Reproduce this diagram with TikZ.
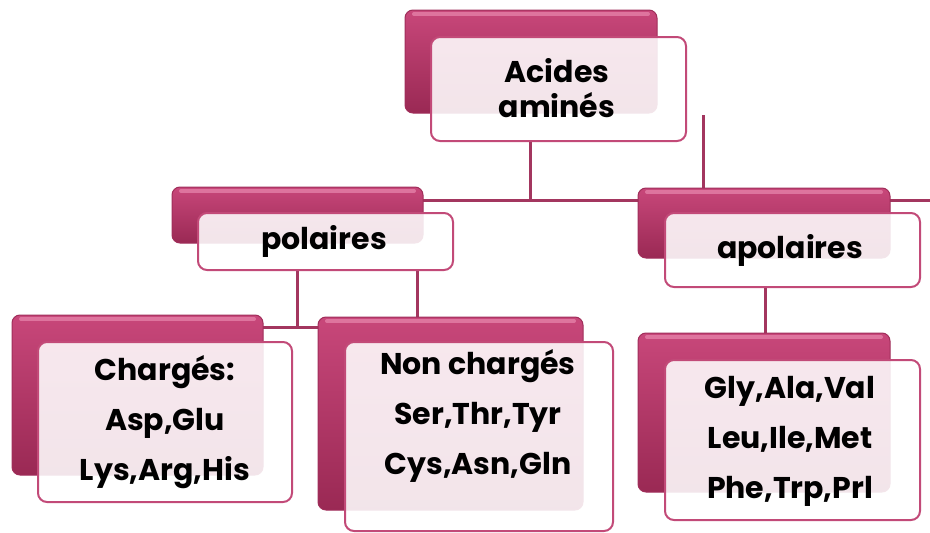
\documentclass[tikz,border=0pt]{standalone}
\usepackage{fontspec}
\setmainfont{Poppins}
\usetikzlibrary{fit}
\definecolor{bktop}{HTML}{C8477A}
\definecolor{bkmid}{HTML}{B43866}
\definecolor{bkbot}{HTML}{9A2954}
\definecolor{bkedge}{HTML}{A02E5A}
\definecolor{hlpink}{HTML}{EE94B8}
\definecolor{fredge}{HTML}{C24A78}
\definecolor{lncol}{HTML}{A3365F}
\begin{document}
\begin{tikzpicture}[x=1pt,y=-1pt,
  backbox/.style={rectangle, rounded corners=8pt, draw=bkedge, line width=1pt,
    top color=bktop, middle color=bkmid, bottom color=bkbot, inner sep=0pt, outer sep=0pt,
    path picture={\draw[line width=4pt, hlpink, opacity=.6, line cap=round]
      ([xshift=9pt,yshift=-4pt]path picture bounding box.north west) --
      ([xshift=-9pt,yshift=-4pt]path picture bounding box.north east);}},
  frontbox/.style={rectangle, rounded corners=9pt, draw=fredge, line width=2pt,
    fill=white, fill opacity=0.88, inner sep=0pt, outer sep=0pt},
  geo/.style={inner sep=0pt, outer sep=0pt},
  lbl/.style={font=\bfseries\fontsize{30}{50}\selectfont, align=center, text=black, inner sep=0pt},
  toplbl/.style={font=\bfseries\fontsize{30}{35}\selectfont, align=center, text=black, inner sep=0pt},
  conn/.style={draw=lncol, line width=3pt}]
\useasboundingbox (0,0) rectangle (930,533);
% junction coordinates
\coordinate (hb) at (530,200);
\coordinate (rEnd) at (930,200);
\coordinate (tEnd) at (703,115);
\coordinate (pj) at (297,327);
\coordinate (pk) at (417,300);
\coordinate (ak) at (765,300);
% boxes (geometry only, for connectors)
\path
  (531,61.5) node[geo, minimum width=252, minimum height=103] (acB) {}
  (558.5,89) node[geo, minimum width=255, minimum height=104] (acF) {}
  (297.5,215) node[geo, minimum width=251, minimum height=56] (poB) {}
  (325.5,241.5) node[geo, minimum width=255, minimum height=57] (poF) {}
  (137.5,395) node[geo, minimum width=251, minimum height=160] (chB) {}
  (165,422) node[geo, minimum width=254, minimum height=160] (chF) {}
  (450.5,413.5) node[geo, minimum width=265, minimum height=193] (ncB) {}
  (479,436.5) node[geo, minimum width=268, minimum height=189] (ncF) {}
  (764,223) node[geo, minimum width=252, minimum height=70] (apB) {}
  (792.5,250) node[geo, minimum width=255, minimum height=74] (apF) {}
  (764,412.5) node[geo, minimum width=252, minimum height=159] (lfB) {}
  (792.5,440) node[geo, minimum width=255, minimum height=160] (lfF) {};
% connectors
\draw[conn] (acF.south -| hb) -- (hb);
\draw[conn] (poB.east |- hb) -- (apB.west |- hb);
\draw[conn] (apB.east |- hb) -- (rEnd);
\draw[conn] (tEnd) -- (tEnd |- apB.north);
\draw[conn] (poF.south -| pj) -- (pj);
\draw[conn] (chB.east |- pj) -- (ncB.west |- pj);
\draw[conn] (poF.south -| pk) -- (ncB.north -| pk);
\draw[conn] (apF.south -| ak) -- (lfB.north -| ak);
% drawn boxes
\foreach \b in {ac,po,ch,nc,ap,lf}{
  \node[backbox, fit=(\b B)] (\b Bd) {};
  \node[frontbox, fit=(\b F)] (\b Fd) {};
}
% texts
\node[toplbl] (tAc) at (557,88) {Acides\\aminés};
\node[lbl] (tPo) at (324,241) {polaires};
\node[lbl] (tAp) at (790,250) {apolaires};
\node[lbl] (tCh) at (165,422) {Chargés:\\Asp,Glu\\Lys,Arg,His};
\node[lbl] (tNc) at (478,416) {Non chargés\\Ser,Thr,Tyr\\Cys,Asn,Gln};
\node[lbl] (tLf) at (790,441) {Gly,Ala,Val\\Leu,Ile,Met\\Phe,Trp,Prl};
\end{tikzpicture}
\end{document}
